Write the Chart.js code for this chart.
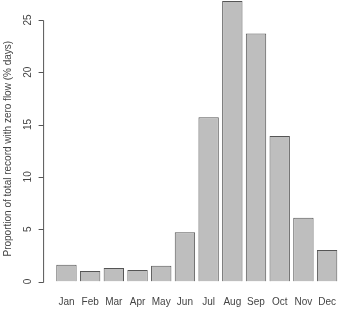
<!DOCTYPE html>
<html>
<head>
<meta charset="utf-8">
<script src="https://cdn.jsdelivr.net/npm/chart.js@4/dist/chart.umd.min.js"></script>
<style>
  html, body { margin: 0; padding: 0; background: #fff; }
  #wrap { width: 351px; height: 319px; }
</style>
</head>
<body>
<div id="wrap"><canvas id="zero-flow"></canvas></div>
<script>
const months = ["Jan", "Feb", "Mar", "Apr", "May", "Jun", "Jul", "Aug", "Sep", "Oct", "Nov", "Dec"];
const zeroFlowPct = [1.6, 1.0, 1.3, 1.1, 1.5, 4.7, 15.7, 26.8, 23.7, 13.9, 6.1, 3.0];
const yTicks = [0, 5, 10, 15, 20, 25];
const yTitle = "Proportion of total record with zero flow (% days)";

const FONT = "'Liberation Sans', Arial, sans-serif";

// R style y axis: detached from the bars, only spans the tick range
const rAxis = {
    id: 'rAxis',
    afterDraw(chart) {
        const ctx = chart.ctx;
        const y = chart.scales.y;
        const x0 = chart.chartArea.left - 11.5;
        const top = y.getPixelForValue(yTicks[yTicks.length - 1]);
        const bot = y.getPixelForValue(yTicks[0]);
        ctx.save();
        ctx.strokeStyle = '#555';
        ctx.lineWidth = 1;
        ctx.beginPath();
        ctx.moveTo(x0 + 0.5, Math.round(top) + 0.5);
        ctx.lineTo(x0 + 0.5, Math.round(bot) + 0.5);
        yTicks.forEach(v => {
            const py = Math.round(y.getPixelForValue(v)) + 0.5;
            ctx.moveTo(x0 + 0.5, py);
            ctx.lineTo(x0 - 4.5, py);
        });
        ctx.stroke();

        ctx.fillStyle = '#444';
        ctx.font = '10px ' + FONT;
        ctx.textAlign = 'center';
        ctx.textBaseline = 'middle';
        yTicks.forEach(v => {
            ctx.save();
            ctx.translate(28, y.getPixelForValue(v));
            ctx.rotate(-Math.PI / 2);
            ctx.fillText(String(v), 0, 0);
            ctx.restore();
        });

        ctx.translate(8, (top + bot) / 2 - 2);
        ctx.rotate(-Math.PI / 2);
        ctx.fillText(yTitle, 0, 0);
        ctx.restore();
    }
};

new Chart(document.getElementById("zero-flow"), {
    type: 'bar',
    data: {
        labels: months,
        datasets: [{
            label: "Zero flow",
            data: zeroFlowPct,
            backgroundColor: "#bebebe",
            borderColor: "#555",
            borderWidth: 1,
            barPercentage: 0.86,
            categoryPercentage: 1.0
        }]
    },
    options: {
        responsive: true,
        maintainAspectRatio: false,
        animation: false,
        layout: { padding: 0 },
        plugins: {
            legend: { display: false },
            tooltip: { enabled: false }
        },
        scales: {
            x: {
                grid: { display: false, drawTicks: false },
                border: { display: false },
                ticks: {
                    color: '#444',
                    font: { family: FONT, size: 10 },
                    padding: 15,
                    maxRotation: 0,
                    autoSkip: false
                },
                afterFit(scale) { scale.height = 37.5; }
            },
            y: {
                min: 0,
                max: 26.9,
                grid: { display: false, drawTicks: false },
                border: { display: false },
                ticks: { display: false },
                afterFit(scale) { scale.width = 54.6; }
            }
        }
    },
    plugins: [rAxis]
});
</script>
</body>
</html>
